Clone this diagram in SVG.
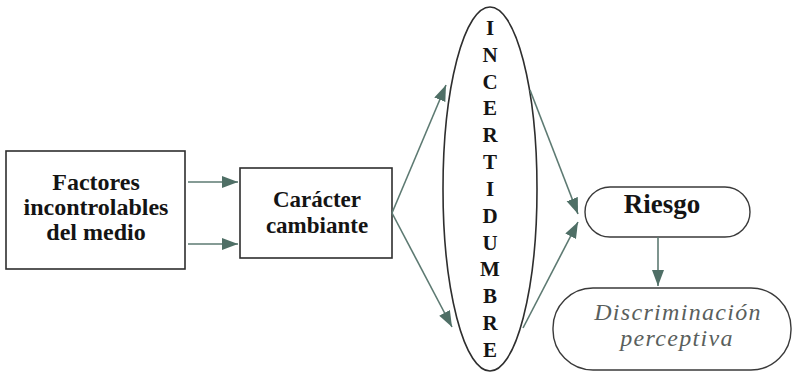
<svg xmlns="http://www.w3.org/2000/svg" width="796" height="377" viewBox="0 0 796 377">
  <defs>
    <marker id="head" markerUnits="userSpaceOnUse" markerWidth="18" markerHeight="14" refX="16" refY="6" orient="auto">
      <path d="M0,0 L16,6 L0,12 Z" fill="#4f6f66"/>
    </marker>
  </defs>
  <rect width="796" height="377" fill="#ffffff"/>

  <g id="factores">
    <rect x="6" y="151" width="179" height="118" fill="#ffffff" stroke="#2e2e2e" stroke-width="1.6"/>
    <g font-weight="bold" font-size="24" fill="#141414" text-anchor="middle">
      <text x="96" y="190" font-family="'Liberation Serif'">Factores</text>
      <text x="96" y="215" font-family="'Liberation Serif'">incontrolables</text>
      <text x="96" y="240" font-family="'Liberation Serif'">del medio</text>
    </g>
  </g>

  <g id="caracter">
    <rect x="240" y="168" width="152" height="90" fill="#ffffff" stroke="#2e2e2e" stroke-width="1.6"/>
    <g font-weight="bold" font-size="23" fill="#141414" text-anchor="middle">
      <text x="317" y="207" font-family="'Liberation Serif'">Carácter</text>
      <text x="317" y="233" font-family="'Liberation Serif'">cambiante</text>
    </g>
  </g>

  <g id="incertidumbre">
    <ellipse cx="490" cy="189" rx="47" ry="182" fill="#ffffff" stroke="#2e2e2e" stroke-width="1.6"/>
    <g font-weight="bold" font-size="21" fill="#141414" text-anchor="middle">
      <text x="490" y="35" font-family="'Liberation Serif'">I</text>
      <text x="490" y="62" font-family="'Liberation Serif'">N</text>
      <text x="490" y="89" font-family="'Liberation Serif'">C</text>
      <text x="490" y="115" font-family="'Liberation Serif'">E</text>
      <text x="490" y="142" font-family="'Liberation Serif'">R</text>
      <text x="490" y="169" font-family="'Liberation Serif'">T</text>
      <text x="490" y="196" font-family="'Liberation Serif'">I</text>
      <text x="490" y="223" font-family="'Liberation Serif'">D</text>
      <text x="490" y="250" font-family="'Liberation Serif'">U</text>
      <text x="490" y="276" font-family="'Liberation Serif'">M</text>
      <text x="490" y="303" font-family="'Liberation Serif'">B</text>
      <text x="490" y="330" font-family="'Liberation Serif'">R</text>
      <text x="490" y="357" font-family="'Liberation Serif'">E</text>
    </g>
  </g>

  <g id="riesgo">
    <rect x="585" y="187" width="165" height="50" rx="25" ry="25" fill="#ffffff" stroke="#3a3a3a" stroke-width="1.4"/>
    <text x="662" y="213" font-family="'Liberation Serif'" font-weight="bold" font-size="27" fill="#141414" text-anchor="middle">Riesgo</text>
  </g>

  <g id="discriminacion">
    <rect x="553" y="288" width="238" height="82" rx="40" ry="40" fill="#ffffff" stroke="#3a3a3a" stroke-width="1.4"/>
    <g font-style="italic" font-size="24" letter-spacing="1.3" fill="#5a5f5d" text-anchor="middle">
      <text x="678" y="320" font-family="'Liberation Serif'">Discriminación</text>
      <text x="677" y="346" font-family="'Liberation Serif'">perceptiva</text>
    </g>
  </g>

  <g id="connectors" stroke="#5d7a72" stroke-width="1.6" fill="none" marker-end="url(#head)">
    <line x1="188" y1="182" x2="238" y2="182"/>
    <line x1="188" y1="244" x2="238" y2="244"/>
    <line x1="392" y1="213" x2="446" y2="85"/>
    <line x1="392" y1="213" x2="452" y2="327"/>
    <line x1="530" y1="90" x2="578" y2="214"/>
    <line x1="523" y1="328" x2="578" y2="222"/>
    <line x1="658" y1="237" x2="658" y2="286"/>
  </g>
</svg>
